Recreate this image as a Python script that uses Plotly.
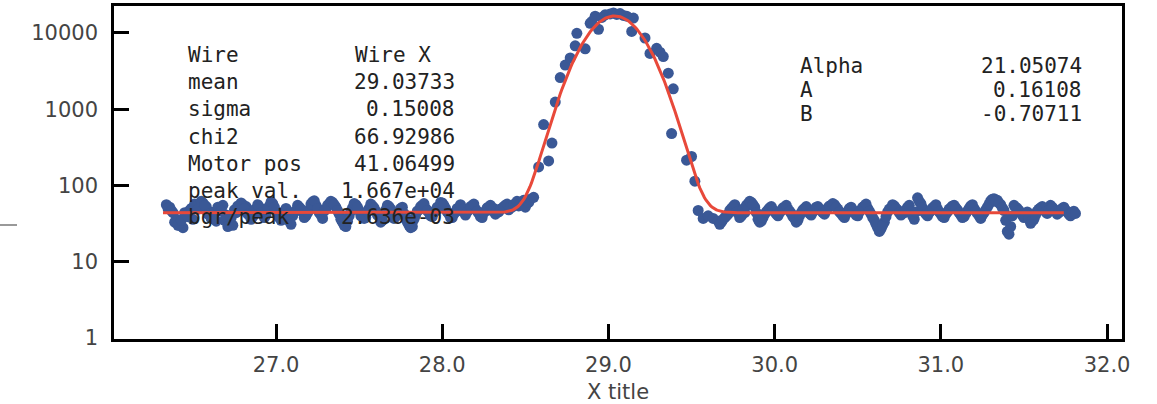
import numpy as np
import plotly.graph_objects as go

# ---- scan data -----------------------------------------------------------
# background before the peak: two interleaved passes, step 0.02 each
step = 0.02
left_a_start, left_b_start = 26.34, 26.35
left_a = [
    56, 52, 44, 36, 30, 28, 41, 47, 36, 52,
    57, 59, 53, 45, 38, 34, 49, 55, 41, 31,
    30, 44, 50, 56, 53, 47, 39, 45, 52, 48,
    41, 54, 58, 46, 38, 43, 50, 34, 40, 47,
    52, 45, 40, 48, 61, 55, 44, 37, 49, 58,
    60, 52, 42, 33, 29, 40, 51, 56, 47, 43,
    38, 50, 54, 46, 40, 35, 48, 53, 44, 39,
    45, 52, 38, 30, 29, 41, 48, 55, 50, 44,
    39, 47, 53, 59, 50, 42, 38, 45, 51, 46,
    41, 48, 54, 49, 43, 38, 46, 52, 47, 42,
    45, 50, 55, 48, 52, 58, 54, 61,
]
left_b = [
    50, 47, 33, 30, 35, 44, 39, 50, 57, 49,
    62, 55, 42, 37, 45, 52, 46, 35, 29, 38,
    48, 54, 59, 50, 42, 36, 48, 56, 44, 38,
    50, 61, 52, 40, 35, 46, 42, 31, 45, 55,
    49, 38, 44, 57, 63, 50, 41, 46, 55, 62,
    56, 47, 36, 30, 34, 46, 58, 52, 40, 37,
    45, 57, 51, 41, 33, 42, 55, 49, 37, 43,
    50, 43, 33, 28, 36, 46, 53, 58, 47, 40,
    44, 52, 60, 55, 45, 38, 42, 50, 56, 49,
    45, 53, 57, 46, 39, 44, 51, 55, 50, 46,
    49, 53, 57, 52, 56, 62, 58, 64,
]

# points across the peak
peak_pos = [
    28.50, 28.52, 28.53, 28.55, 28.58, 28.61, 28.64, 28.66, 28.68, 28.71,
    28.74, 28.77, 28.80, 28.81, 28.86, 28.89, 28.90, 28.92, 28.94, 28.96,
    28.98, 29.01, 29.03, 29.05, 29.07, 29.09, 29.11, 29.14, 29.15, 29.22,
    29.25, 29.29, 29.31, 29.33, 29.36, 29.39, 29.38, 29.47, 29.50, 29.52,
    29.54, 29.57, 29.60, 29.63,
]
peak_counts = [
    52, 60, 66, 70, 175, 630, 210, 360, 1240, 2600,
    3800, 4700, 6800, 9900, 6200, 13400, 14100, 16600, 11200, 16000,
    17300, 17800, 18300, 17500, 18000, 17000, 16600, 10500, 15700, 8600,
    5400, 6300, 5600, 4900, 2970, 1850, 480, 215, 240, 114,
    47, 37, 40, 37,
]

# background after the peak: two interleaved passes, step 0.02 each
right_a_start, right_b_start = 29.66, 29.67
right_a = [
    34, 33, 38, 42, 50, 56, 48, 40, 44, 58,
    60, 52, 36, 34, 42, 48, 53, 45, 40, 47,
    52, 49, 43, 37, 35, 44, 50, 46, 41, 48,
    53, 47, 42, 51, 55, 56, 49, 43, 38, 46,
    52, 44, 40, 48, 54, 50, 42, 35, 28, 27,
    33, 45, 51, 54, 48, 41, 44, 52, 46, 36,
    69, 58, 45, 40, 47, 53, 49, 42, 38, 45,
    51, 55, 48, 41, 39, 46, 54, 50, 43, 37,
    44, 52, 63, 67, 64, 56, 47, 25, 29, 55,
    50, 44, 38, 45, 32, 36, 46, 51, 48, 43,
    55, 49, 42, 47, 52, 45, 40, 46,
]
right_b = [
    31, 36, 40, 47, 53, 45, 38, 49, 55, 62,
    56, 44, 33, 38, 45, 51, 48, 42, 44, 51,
    55, 46, 39, 33, 40, 48, 53, 43, 45, 52,
    49, 44, 47, 54, 58, 52, 45, 40, 42, 50,
    48, 41, 45, 52, 57, 46, 38, 31, 25, 30,
    39, 49, 56, 50, 44, 43, 48, 55, 40, 45,
    62, 51, 42, 44, 51, 56, 45, 39, 42, 49,
    54, 51, 44, 38, 43, 50, 56, 46, 40, 41,
    48, 57, 66, 62, 59, 51, 35, 23, 40, 52,
    47, 41, 42, 37, 34, 41, 49, 53, 45, 47,
    52, 46, 44, 50, 48, 42, 44, 43,
]

# ---- fit results ---------------------------------------------------------
fit_mean = 29.03733
fit_sigma = 0.15008
fit_chi2 = 66.92986
motor_pos = 41.06499
peak_val = 1.667e4
bgr_per_peak = 2.636e-3
fit_range = (26.32, 31.74)
alpha, par_a, par_b = 21.05074, 0.16108, -0.70711

stats_left = [
    ("Wire", "Wire X"),
    ("mean", f"{fit_mean:.5f}"),
    ("sigma", f"{fit_sigma:.5f}"),
    ("chi2", f"{fit_chi2:.5f}"),
    ("Motor pos", f"{motor_pos:.5f}"),
    ("peak val.", f"{peak_val:.3e}"),
    ("bgr/peak", f"{bgr_per_peak:.3e}"),
]
stats_right = [
    ("Alpha", f"{alpha:.5f}"),
    ("A", f"{par_a:.5f}"),
    ("B", f"{par_b:.5f}"),
]

x_ticks = [27.0, 28.0, 29.0, 30.0, 31.0, 32.0]
y_ticks = [1, 10, 100, 1000, 10000]


# ---- assemble the scan ---------------------------------------------------
def positions(start, counts):
    return [round(start + i * step, 2) for i in range(len(counts))]


scan_x = (positions(left_a_start, left_a) + positions(left_b_start, left_b)
          + peak_pos
          + positions(right_a_start, right_a) + positions(right_b_start, right_b))
scan_y = left_a + left_b + peak_counts + right_a + right_b

# gaussian + flat background from the fitted parameters
fit_x = np.linspace(fit_range[0], fit_range[1], 600)
background = peak_val * bgr_per_peak
fit_y = background + peak_val * np.exp(-0.5 * ((fit_x - fit_mean) / fit_sigma) ** 2)

W, H = 1157, 404
ML, MR, MT, MB = 114, 35, 6, 65
PW, PH = W - ML - MR, H - MT - MB


def px(x):
    return (x - ML) / PW


def py(y):
    return (H - MB - y) / PH


fig = go.Figure()
fig.add_trace(go.Scatter(
    x=scan_x, y=scan_y, mode="markers",
    marker=dict(color="rgb(58,88,150)", size=11, line=dict(width=0)),
    hoverinfo="x+y", showlegend=False,
))
fig.add_trace(go.Scatter(
    x=fit_x, y=fit_y, mode="lines",
    line=dict(color="#e8493a", width=3),
    hoverinfo="skip", showlegend=False,
))

mono = dict(family="DejaVu Sans Mono", size=21, color="#222")
annotations = []
row_y = [55, 82, 109, 136.5, 163.5, 190.5, 217.5]
for (label, value), yy in zip(stats_left, row_y):
    annotations.append(dict(x=px(186), y=py(yy), xref="paper", yref="paper",
                            text=label, showarrow=False, xanchor="left",
                            yanchor="middle", font=mono))
    if label == "Wire":
        annotations.append(dict(x=px(353), y=py(yy), xref="paper", yref="paper",
                                text=value, showarrow=False, xanchor="left",
                                yanchor="middle", font=mono))
    else:
        annotations.append(dict(x=px(457), y=py(yy), xref="paper", yref="paper",
                                text=value, showarrow=False, xanchor="right",
                                yanchor="middle", font=mono))
for (label, value), yy in zip(stats_right, [66, 90, 114]):
    annotations.append(dict(x=px(798), y=py(yy), xref="paper", yref="paper",
                            text=label, showarrow=False, xanchor="left",
                            yanchor="middle", font=mono))
    annotations.append(dict(x=px(1084), y=py(yy), xref="paper", yref="paper",
                            text=value, showarrow=False, xanchor="right",
                            yanchor="middle", font=mono))

tick_font = dict(family="DejaVu Sans", size=21, color="#444")
fig.update_layout(
    width=W, height=H,
    margin=dict(l=ML, r=MR, t=MT, b=MB, pad=0),
    paper_bgcolor="white", plot_bgcolor="white",
    annotations=annotations,
    shapes=[dict(type="line", xref="paper", yref="paper",
                 x0=px(0), x1=px(17), y0=py(225), y1=py(225),
                 line=dict(color="#999", width=2))],
    xaxis=dict(
        range=[26.025, 32.09], tickvals=x_ticks,
        ticktext=[f"{v:.1f}" for v in x_ticks],
        ticks="inside", ticklen=15, tickwidth=2.5, tickcolor="black",
        showline=True, linecolor="black", linewidth=2.5, mirror=True,
        showgrid=False, zeroline=False, tickfont=tick_font,
        ticklabelstandoff=5, automargin=False,
        title=dict(text="X title", font=tick_font, standoff=11),
    ),
    yaxis=dict(
        type="log", range=[-0.013, 4.354], tickvals=y_ticks,
        ticktext=[str(v) for v in y_ticks],
        ticks="inside", ticklen=15, tickwidth=2.5, tickcolor="black",
        showline=True, linecolor="black", linewidth=2.5, mirror=True,
        showgrid=False, zeroline=False, tickfont=tick_font,
        ticklabelstandoff=9, automargin=False,
    ),
)

fig.write_html("out.html")
